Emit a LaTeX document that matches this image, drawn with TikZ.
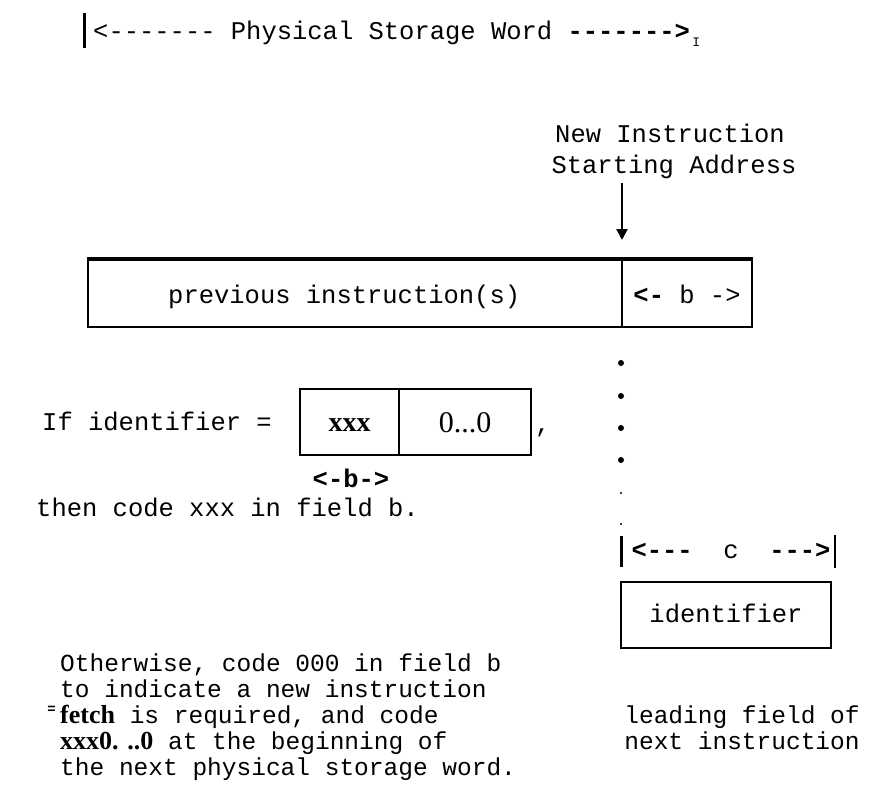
\documentclass[tikz,border=0pt]{standalone}
\usepackage{fontspec}
\setmainfont{Liberation Mono}[Ligatures=TeXOff]
\newfontfamily\serifbold{Liberation Serif}[Ligatures=TeXOff]
\usetikzlibrary{arrows.meta}
\begin{document}
\begin{tikzpicture}[x=1pt,y=-1pt,
  txt/.style={inner sep=0pt,anchor=base west,font=\fontsize{25.5}{28}\selectfont},
  ctxt/.style={inner sep=0pt,anchor=base,font=\fontsize{25.5}{28}\selectfont},
  btxt/.style={inner sep=0pt,anchor=base west,font=\fontsize{24.5}{26}\selectfont},
  bctxt/.style={inner sep=0pt,anchor=base,font=\fontsize{24.5}{26}\selectfont},
  boxline/.style={draw,line width=2.4pt,inner sep=0pt},
  bar/.style={line width=3pt},
  dotm/.style={circle,fill,inner sep=0pt,minimum size=6pt},
  tinydot/.style={circle,fill,inner sep=0pt,minimum size=2.2pt},
  serifb/.style={font=\serifbold\fontsize{28}{30}\selectfont\bfseries}]
\useasboundingbox (0,0) rectangle (869,784);
% ---- top label
\coordinate (tb1) at (84,13); \coordinate (tb2) at (84,48);
\draw[bar] (tb1) -- (tb2);
\node[txt] (top) at (93,40) {<-------  Physical  Storage Word {\bfseries------->}};
\node[inner sep=0pt,anchor=base west,font=\fontsize{13}{13}\selectfont] (ibar) at ([xshift=2pt,yshift=-7pt]top.base east) {I};
% ---- new instruction label
\node[ctxt] (ni1) at (670,142) {New Instruction};
\node[ctxt] (ni2) at (674,173) {Starting Address};
\coordinate (arrS) at (622,183);
\coordinate (arrE) at (622,240);
\draw[line width=2.2pt,-{Triangle[length=11pt,width=11pt]}] (arrS) -- (arrE);
% ---- big word box
\node[boxline,minimum width=534pt,minimum height=67pt] (prev) at (355,293.5) {};
\node[boxline,minimum width=130pt,minimum height=67pt] (bfield) at (687,293.5) {};
\draw[line width=4.2pt] (prev.north west) -- (bfield.north east);
\node[txt] (prevt) at (168,303) {previous  instruction(s)};
\node[ctxt] (bt) at (687,303) {{\bfseries<-} b ->};
% ---- dotted continuation
\node[dotm] (d1) at (621,363) {};
\node[dotm] (d2) at (621,396) {};
\node[dotm] (d3) at (621,428) {};
\node[dotm] (d4) at (621,460) {};
\node[tinydot] (d5) at (621,493) {};
\node[tinydot] (d6) at (621,524) {};
% ---- if identifier
\node[txt] (ifid) at (42,430) {If identifier =};
\node[boxline,minimum width=99pt,minimum height=66pt] (xxxb) at (349.5,422) {};
\node[boxline,minimum width=132pt,minimum height=66pt] (zerob) at (465,422) {};
\node[inner sep=0pt,anchor=base,serifb] (xxxt) at (xxxb.center |- 0,431) {xxx};
\node[inner sep=0pt,anchor=base,font=\serifbold\fontsize{30}{30}\selectfont] (zt) at (zerob.center |- 0,432) {0...0};
\node[txt] (comma) at (535,432) {,};
\node[ctxt,font=\fontsize{25.5}{28}\selectfont\bfseries] (bl) at (351,487) {<-b->};
\node[txt] (then) at (36,516) {then code xxx in field b.};
% ---- c field
\coordinate (cl1) at (621,536); \coordinate (cl2) at (621,567);
\coordinate (cr1) at (835,535); \coordinate (cr2) at (835,568);
\draw[bar] (cl1) -- (cl2);
\draw[line width=2.4pt] (cr1) -- (cr2);
\node[ctxt] (ct) at (731,558) {{\bfseries<---}\ \ c\ \ {\bfseries--->}};
\node[boxline,minimum width=210pt,minimum height=66pt] (idbox) at (726,615) {};
\node[ctxt] (idt) at (726,622) {identifier};
% ---- explanation
\node[btxt] (o1) at (60,671) {Otherwise, code 000 in field b};
\node[btxt] (o2) at (60,697) {to indicate a new instruction};
\node[inner sep=0pt,anchor=base east,font=\fontsize{14}{14}\selectfont\bfseries] (mark) at (56,713) {=};
\node[btxt] (o3) at (60,723) {{\serifbold\fontsize{26}{26}\selectfont\bfseries fetch} is required, and code};
\node[btxt] (o4) at (60,749) {{\serifbold\fontsize{26}{26}\selectfont\bfseries xxx0. ..0} at the beginning of};
\node[btxt] (o5) at (60,775) {the next physical storage word.};
\node[bctxt] (l1) at (742,723) {leading field of};
\node[bctxt] (l2) at (742,749) {next instruction};
\end{tikzpicture}
\end{document}
